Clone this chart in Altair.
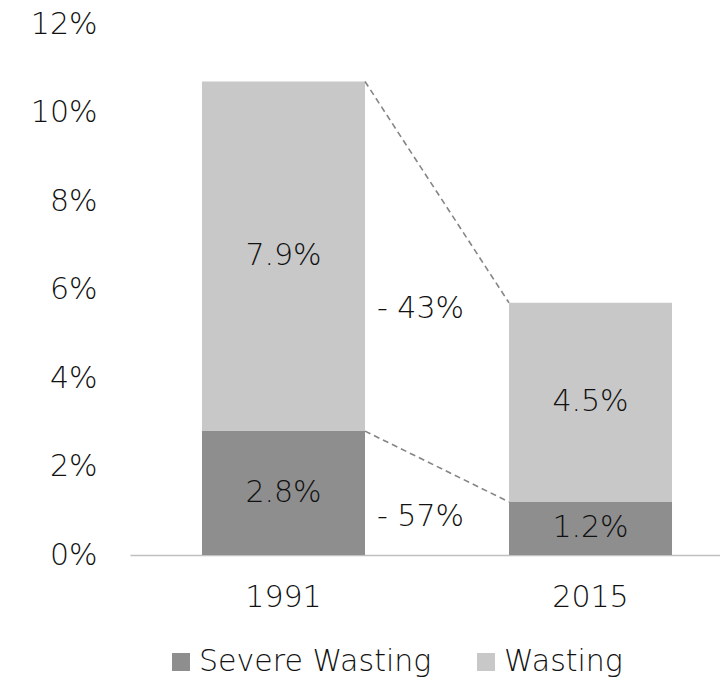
import altair as alt
import pandas as pd

FONT = "DejaVu Sans"
WEIGHT = 200
TEXT_COLOR = "#111111"

# Data
years = ["1991", "2015"]
series = ["Severe Wasting", "Wasting"]
severe = [2.8, 1.2]
wasting = [7.9, 4.5]
colors = ["#8e8e8e", "#c8c8c8"]
y_ticks = [0, 2, 4, 6, 8, 10, 12]

rows = []
for i, yr in enumerate(years):
    rows.append({"year": yr, "series": series[0], "value": severe[i], "order": 0})
    rows.append({"year": yr, "series": series[1], "value": wasting[i], "order": 1})
bars_df = pd.DataFrame(rows)

# Dashed connectors between the tops of matching segments
conn_df = pd.DataFrame({
    "from": [years[0], years[0]],
    "to": [years[1], years[1]],
    "y0": [severe[0] + wasting[0], severe[0]],
    "y1": [severe[1] + wasting[1], severe[1]],
})

# Percentage change for each segment
def change_label(a, b):
    pct = round((b / a - 1) * 100)
    sign = "- " if pct < 0 else "+ "
    return f"{sign}{abs(pct)}%"

chg_df = pd.DataFrame({
    "from": [years[0], years[0]],
    "anchor": [5.55, 0.85],
    "label": [change_label(wasting[0], wasting[1]), change_label(severe[0], severe[1])],
})

x_scale = alt.Scale(domain=years, paddingInner=0.469, paddingOuter=0.1954, align=0.6)
y_scale = alt.Scale(domain=[0, 12], nice=False)

bars = alt.Chart(bars_df).mark_bar().encode(
    x=alt.X("year:N", scale=x_scale, title=None,
            axis=alt.Axis(labelAngle=0, ticks=False, tickSize=0, domain=True,
                          domainColor="#c0c0c0", domainWidth=1.5,
                          labelFontSize=30, labelColor=TEXT_COLOR,
                          labelFontWeight=WEIGHT,
                          labelPadding=27, labelFont=FONT)),
    y=alt.Y("value:Q", stack="zero", scale=y_scale, title=None,
            axis=alt.Axis(values=y_ticks, labelExpr="datum.value + '%'",
                          grid=False, domain=False, ticks=False, tickSize=0,
                          labelFontSize=30, labelColor=TEXT_COLOR,
                          labelFontWeight=WEIGHT,
                          labelPadding=33, labelFont=FONT)),
    color=alt.Color("series:N", scale=alt.Scale(domain=series, range=colors),
                    legend=alt.Legend(title=None, orient="none", direction="horizontal",
                                      legendX=36, legendY=623,
                                      symbolType="square", symbolSize=324,
                                      symbolStrokeWidth=0, symbolOpacity=1,
                                      labelFontSize=30, labelColor=TEXT_COLOR,
                                      labelFontWeight=WEIGHT,
                                      labelFont=FONT, labelOffset=3,
                                      columnPadding=39, labelLimit=400)),
    order=alt.Order("order:Q"),
)

seg_labels = alt.Chart(bars_df).transform_stack(
    stack="value", groupby=["year"], as_=["v0", "v1"],
    sort=[alt.SortField("order", order="ascending")],
).transform_calculate(
    mid="(datum.v0 + datum.v1) / 2",
    label="format(datum.value, '.1f') + '%'",
).mark_text(fontSize=30, color=TEXT_COLOR, font=FONT, fontWeight=WEIGHT,
            baseline="middle").encode(
    x=alt.X("year:N", title=None),
    y=alt.Y("mid:Q", title=None),
    text="label:N",
)

connectors = alt.Chart(conn_df).mark_rule(
    strokeDash=[6, 4], color="#858585", strokeWidth=1.6
).encode(
    x=alt.X("from:N", bandPosition=1, title=None),
    x2=alt.X2("to:N", bandPosition=0),
    y=alt.Y("y0:Q", title=None),
    y2="y1:Q",
)

chg_labels = alt.Chart(chg_df).mark_text(
    align="left", baseline="middle", dx=12, fontSize=30, color=TEXT_COLOR,
    font=FONT, fontWeight=WEIGHT
).encode(
    x=alt.X("from:N", bandPosition=1, title=None),
    y=alt.Y("anchor:Q", title=None),
    text="label:N",
)

chart = alt.layer(bars, connectors, seg_labels, chg_labels).properties(
    width=590, height=531,
    autosize=alt.AutoSizeParams(type="none"),
    padding={"left": 130, "top": 24, "right": 0, "bottom": 126},
    background="white",
).configure(font=FONT).configure_view(stroke=None)

chart.save("out.html", embed_options={"renderer": "svg", "actions": False})
